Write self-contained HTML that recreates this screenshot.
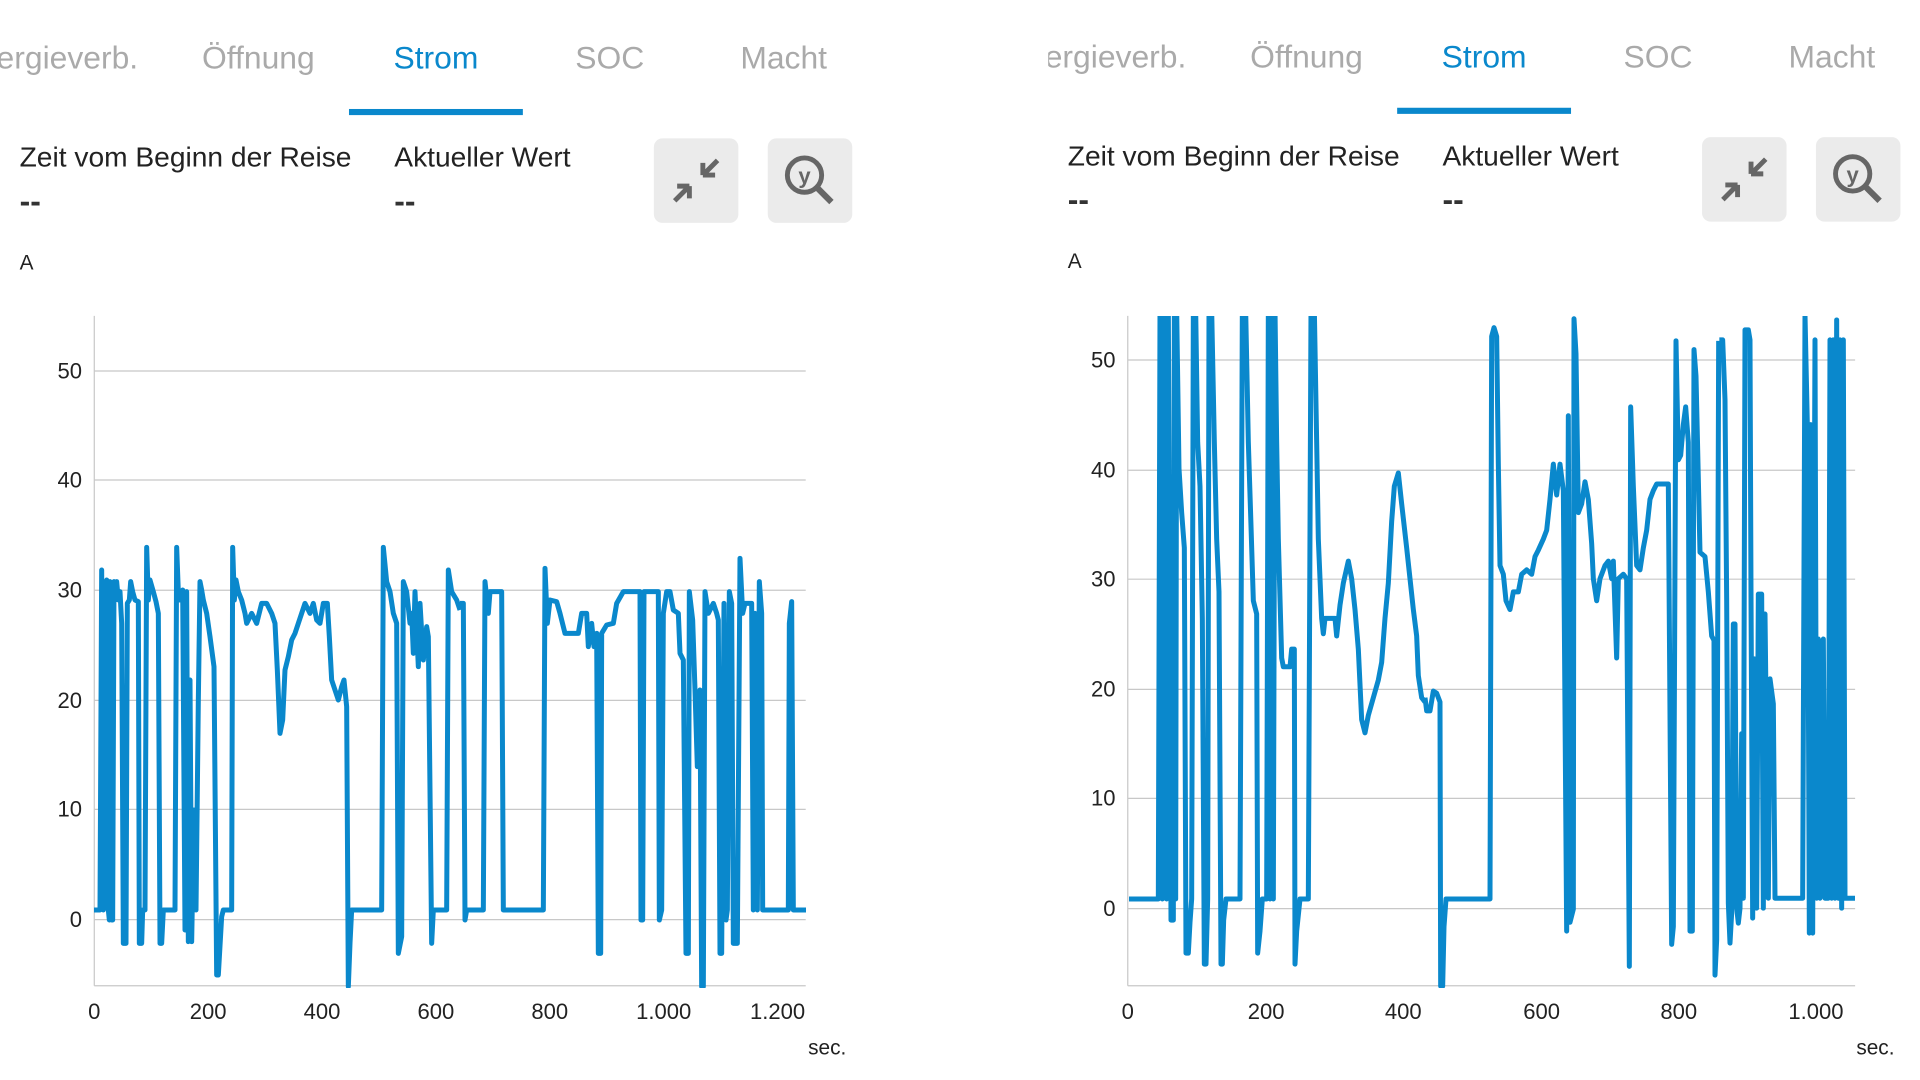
<!DOCTYPE html>
<html><head><meta charset="utf-8"><style>
html,body{margin:0;padding:0;background:#fff;width:1920px;height:1080px;overflow:hidden;font-family:"Liberation Sans",sans-serif;}
#w{position:absolute;left:0;top:0;width:1568px;height:882px;transform:scale(1.2245);transform-origin:0 0;}
.t{position:absolute;font-size:26px;color:#aaa;white-space:nowrap;transform:translateX(-50%);}
.t.a{color:#0a88cc;}
.ul{position:absolute;height:5px;background:#0a88cc;width:142px;}
.lb{position:absolute;font-size:23px;color:#222;white-space:nowrap;}
.dd{position:absolute;font-size:26px;font-weight:bold;color:#333;}
.btn{position:absolute;width:69px;height:69px;background:#ebebeb;border-radius:7px;}
.pane{position:absolute;top:0;width:780px;height:882px;overflow:hidden;}
</style></head><body><div id="w">

<div class="pane" style="left:0">
<div class="t" style="left:55px;top:32px">ergieverb.</div>
<div class="t" style="left:211px;top:32px">Öffnung</div>
<div class="t a" style="left:356px;top:32px">Strom</div>
<div class="t" style="left:498px;top:32px">SOC</div>
<div class="t" style="left:640px;top:32px">Macht</div>
<div class="ul" style="left:285px;top:89px"></div>
<div class="lb" style="left:16px;top:115px">Zeit vom Beginn der Reise</div>
<div class="lb" style="left:322px;top:115px">Aktueller Wert</div>
<div class="dd" style="left:16px;top:149px">--</div>
<div class="dd" style="left:322px;top:149px">--</div>
<div class="btn" style="left:534px;top:113px"></div>
<div class="btn" style="left:627px;top:113px"></div>
<div class="lb" style="left:16px;top:205px;font-size:17px">A</div>
</div>

<div class="pane" style="left:856px;top:-1px">
<div class="t" style="left:55px;top:32px">ergieverb.</div>
<div class="t" style="left:211px;top:32px">Öffnung</div>
<div class="t a" style="left:356px;top:32px">Strom</div>
<div class="t" style="left:498px;top:32px">SOC</div>
<div class="t" style="left:640px;top:32px">Macht</div>
<div class="ul" style="left:285px;top:89px"></div>
<div class="lb" style="left:16px;top:115px">Zeit vom Beginn der Reise</div>
<div class="lb" style="left:322px;top:115px">Aktueller Wert</div>
<div class="dd" style="left:16px;top:149px">--</div>
<div class="dd" style="left:322px;top:149px">--</div>
<div class="btn" style="left:534px;top:113px"></div>
<div class="btn" style="left:627px;top:113px"></div>
<div class="lb" style="left:16px;top:205px;font-size:17px">A</div>
</div>

<svg width="1568" height="882" style="position:absolute;left:0;top:0" font-family="Liberation Sans, sans-serif">
<g fill="#666" stroke="#666">
 <g transform="translate(534,113)"><path d="M40 30 L52 18 M40 30 L40 20 M40 30 L50 30" stroke-width="4" fill="none"/><path d="M29 39 L17 51 M29 39 L29 49 M29 39 L19 39" stroke-width="4" fill="none"/></g>
 <g transform="translate(1390,112)"><path d="M40 30 L52 18 M40 30 L40 20 M40 30 L50 30" stroke-width="4" fill="none"/><path d="M29 39 L17 51 M29 39 L29 49 M29 39 L19 39" stroke-width="4" fill="none"/></g>
 <g transform="translate(627,113)" fill="none"><circle cx="30" cy="30" r="14" stroke-width="4"/><path d="M40 40 L52 52" stroke-width="5"/><text x="30" y="37" font-size="18" text-anchor="middle" fill="#666" stroke="none" font-weight="bold">y</text></g>
 <g transform="translate(1483,112)" fill="none"><circle cx="30" cy="30" r="14" stroke-width="4"/><path d="M40 40 L52 52" stroke-width="5"/><text x="30" y="37" font-size="18" text-anchor="middle" fill="#666" stroke="none" font-weight="bold">y</text></g>
</g>

<g stroke="#c8c8c8" stroke-width="1">
<line x1="77" y1="258" x2="77" y2="805"/><line x1="77" y1="805" x2="658" y2="805"/>
<line x1="77" y1="303" x2="658" y2="303"/><line x1="77" y1="392" x2="658" y2="392"/>
<line x1="77" y1="482" x2="658" y2="482"/><line x1="77" y1="572" x2="658" y2="572"/>
<line x1="77" y1="661" x2="658" y2="661"/><line x1="77" y1="751" x2="658" y2="751"/>
</g>
<g font-size="18" fill="#222" text-anchor="end">
<text x="67" y="309">50</text><text x="67" y="398">40</text><text x="67" y="488">30</text><text x="67" y="578">20</text><text x="67" y="667">10</text><text x="67" y="757">0</text>
</g>
<g font-size="18" fill="#222" text-anchor="middle">
<text x="77" y="832">0</text><text x="170" y="832">200</text><text x="263" y="832">400</text><text x="356" y="832">600</text><text x="449" y="832">800</text><text x="542" y="832">1.000</text><text x="635" y="832">1.200</text>
</g>
<text x="660" y="861" font-size="17" fill="#222">sec.</text>

<g stroke="#c8c8c8" stroke-width="1">
<line x1="921" y1="258" x2="921" y2="805"/><line x1="921" y1="805" x2="1515" y2="805"/>
<line x1="921" y1="294" x2="1515" y2="294"/><line x1="921" y1="384" x2="1515" y2="384"/>
<line x1="921" y1="473" x2="1515" y2="473"/><line x1="921" y1="563" x2="1515" y2="563"/>
<line x1="921" y1="652" x2="1515" y2="652"/><line x1="921" y1="742" x2="1515" y2="742"/>
</g>
<g font-size="18" fill="#222" text-anchor="end">
<text x="911" y="300">50</text><text x="911" y="390">40</text><text x="911" y="479">30</text><text x="911" y="569">20</text><text x="911" y="658">10</text><text x="911" y="748">0</text>
</g>
<g font-size="18" fill="#222" text-anchor="middle">
<text x="921" y="832">0</text><text x="1034" y="832">200</text><text x="1146" y="832">400</text><text x="1259" y="832">600</text><text x="1371" y="832">800</text><text x="1483" y="832">1.000</text>
</g>
<text x="1516" y="861" font-size="17" fill="#222">sec.</text>
</svg>
</div>

<svg width="1920" height="1080" style="position:absolute;left:0;top:0">
<defs>
<clipPath id="cl"><rect x="94" y="316" width="712" height="672"/></clipPath>
<clipPath id="cr"><rect x="1128" y="316" width="728" height="672"/></clipPath>
</defs>
<g fill="none" stroke="#0a88cc" stroke-width="5" stroke-linejoin="round">
<g clip-path="url(#cl)">
<g transform="translate(90,520) scale(0.33333)">
<polyline vector-effect="non-scaling-stroke" points="12,1170 30,1170 35,150 40,1170 45,480 50,180 55,1170 58,1200 60,185 65,1200 68,1200 72,185 75,240 80,185 85,240 90,215 95,310 100,1270 108,1270 112,250 118,240 122,185 128,215 135,240 145,245 148,1270 155,1270 158,1170 165,1170 170,82 175,240 180,180 190,215 198,245 205,280 210,1270 215,1270 220,1170 255,1170 260,82 265,215 270,240 278,210 285,1230 290,215 295,1265 300,480 305,1265 312,870 318,1170 325,540 330,185 335,210 340,240 350,280 360,350 372,440 380,1365 385,1365 395,1190 400,1170 425,1170 428,82 433,240 438,180 445,215 455,240 465,280 470,310 485,280 500,310 515,250 530,250 545,280 555,310 562,450 570,640 578,600 585,450 595,410 605,360 615,340 625,310 635,280 645,250 660,280 670,250 680,300 690,310 700,250 712,250 718,350 725,480 735,510 745,540 755,500 762,480 770,560 775,1400 780,1270 785,1170 875,1170 880,82 890,185 900,215 910,280 920,310 925,1300 935,1250 940,185 950,215 960,310 965,280 970,400 975,215 985,440 990,250 1000,420 1010,320 1015,350 1025,1270 1030,1170 1070,1170 1075,150 1085,215 1100,240 1110,270"/>
</g>
<g transform="translate(450,520) scale(0.33333)">
<polyline vector-effect="non-scaling-stroke" points="30,250 40,250 45,1200 50,1170 100,1170 105,185 115,280 120,215 155,215 160,1170 280,1170 285,145 292,310 300,240 320,245 330,280 345,340 385,340 395,280 410,280 415,380 425,310 432,380 440,340 445,1300 452,1300 455,340 470,315 490,310 500,250 520,215 570,215 573,1200 578,1200 582,215 625,215 628,1200 635,1170 640,280 650,215 660,215 670,270 685,280 690,400 700,420 708,1300 715,1300 718,215 728,300 735,510 742,740 750,510 755,1400 760,1400 765,215 775,280 790,250 800,280 805,300 810,1300 815,1300 822,250 828,1200 832,1170 838,215 845,250 850,1270 862,1270 870,115 878,280 885,250 905,250 910,1170 915,280 922,1170 928,185 935,280 938,1170 1015,1170 1018,310 1025,245 1030,1170 1085,1170"/>
</g>
</g>
<g clip-path="url(#cr)">
<g transform="translate(1125,310) scale(0.33333,0.4405)">
<polyline vector-effect="non-scaling-stroke" points="12,1337 100,1337 105,0 112,1337 118,0 125,1337 130,0 138,1385 145,1385 148,0 152,1337 155,0 162,360 170,460 178,540 183,1460 190,1460 195,1390 200,1337 205,0 212,0 218,300 225,400 232,700 238,1485 243,1485 248,1337 252,0 260,0 268,300 275,520 282,640 288,1485 292,1485 296,1385 303,1337 345,1337 352,0 362,0 370,300 378,490 385,660 395,690 398,1460 405,1410 412,1337 425,1337 430,0 435,1337 440,0 445,1337 450,0 455,300 460,520 470,790 475,810 495,810 500,770 508,770 510,1485 515,1410 525,1337 550,1337 558,0 568,0 575,300 580,520 590,700 595,735 600,700 630,700 635,740 645,670 655,620 670,570 680,610 690,680 700,770 710,930 720,960 730,920 745,880 760,840 770,800 780,700 790,620 800,480 808,400 820,370 830,440 845,540 855,610 865,680 875,740 880,830 890,880 900,890"/>
</g>
<g transform="translate(1420,310) scale(0.33333,0.4405)">
<polyline vector-effect="non-scaling-stroke" points="15,880 20,910 30,910 40,865 50,870 60,890 62,1535 68,1535 72,1400 78,1337 210,1337 215,60 222,40 230,60 235,350 240,580 250,600 258,660 270,680 280,640 295,640 305,600 320,590 335,600 345,560 355,545 370,520 380,500 390,430 400,350 410,420 420,350 430,410 440,1410 445,240 450,1390 460,1360 462,20 468,100 475,460 485,440 495,390 505,430 515,530 520,610 530,660 540,610 555,580 565,570 575,610 580,570 590,790 595,610 610,600 620,610 628,1490 632,220 640,400 650,580 660,590 670,540 680,500 690,430 700,410 710,395 730,395 745,395 755,1440 760,1400 768,70 775,340 782,330 790,260 797,220 805,300 810,1410 817,1410 822,90 828,150 840,550 855,560 865,640 875,740 882,750 885,1510 890,1430 896,70"/>
</g>
<g transform="translate(1560,300) scale(0.33333,0.4985)">
<polyline vector-effect="non-scaling-stroke" points="478,80 488,80 495,200 500,600 505,1210 510,1290 515,1230 520,650 525,650 530,1220 535,1250 540,1220 545,870 550,1200 555,60 565,60 570,80 573,590 578,1240 583,720 590,1220 595,590 605,590 610,1220 615,630 625,1200 630,760 640,810 645,1200 650,1200 720,1200 728,1200 735,30 742,250 748,1270 752,250 758,1270 765,80 770,1200 775,680 780,1200 790,680 795,1200 805,1200 810,80 815,1200 820,80 825,1200 830,40 835,1200 840,80 845,1220 850,80 855,1200 885,1200"/>
</g>
</g>
</g>
</svg>
</body></html>
